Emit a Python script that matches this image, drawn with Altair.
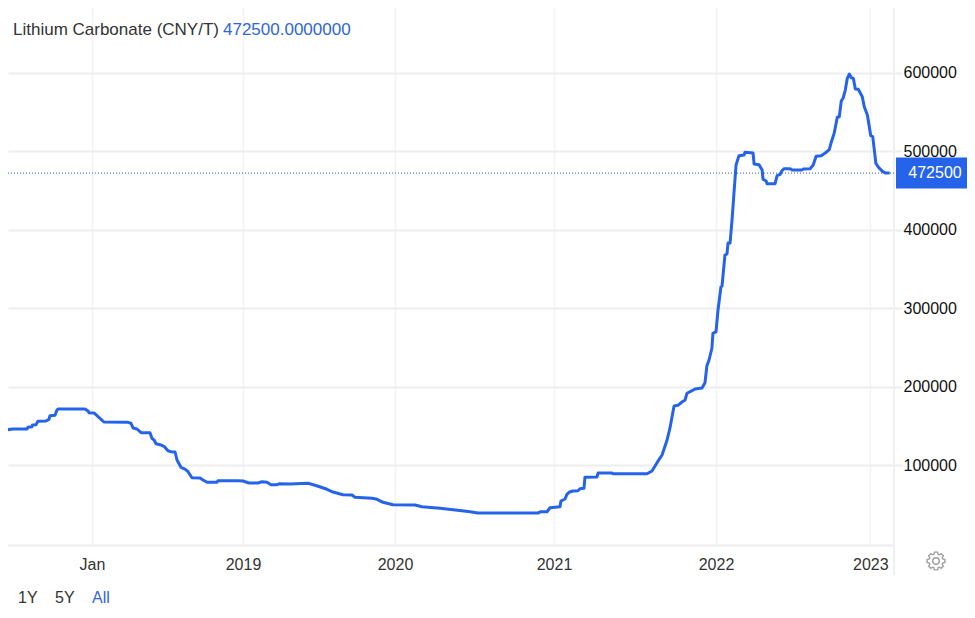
import math
import altair as alt
import pandas as pd

SERIES = "Lithium Carbonate (CNY/T)"
LAST = 472500
LAST_TEXT = "472500.0000000"

# time in decimal years, price in CNY/T
times = [
    2017.391, 2017.409, 2017.424, 2017.477, 2017.570, 2017.576, 2017.603, 2017.606, 2017.629, 2017.642,
    2017.695, 2017.715, 2017.722, 2017.755, 2017.768, 2017.775, 2017.954, 2017.974, 2017.980, 2018.013,
    2018.053, 2018.079, 2018.238, 2018.258, 2018.272, 2018.298, 2018.325, 2018.384, 2018.397, 2018.411,
    2018.424, 2018.450, 2018.477, 2018.503, 2018.523, 2018.550, 2018.563, 2018.589, 2018.616, 2018.636,
    2018.662, 2018.715, 2018.735, 2018.762, 2018.828, 2018.834, 2018.967, 2019.000, 2019.039, 2019.099,
    2019.125, 2019.158, 2019.184, 2019.224, 2019.237, 2019.309, 2019.428, 2019.474, 2019.553, 2019.592,
    2019.658, 2019.717, 2019.737, 2019.849, 2019.882, 2019.921, 2019.987, 2020.126, 2020.170, 2020.283,
    2020.421, 2020.472, 2020.522, 2020.899, 2020.918, 2020.956, 2020.975, 2021.037, 2021.043, 2021.068,
    2021.080, 2021.093, 2021.117, 2021.148, 2021.160, 2021.185, 2021.191, 2021.265, 2021.272, 2021.358,
    2021.364, 2021.574, 2021.605, 2021.636, 2021.667, 2021.698, 2021.716, 2021.741, 2021.765, 2021.790,
    2021.809, 2021.821, 2021.852, 2021.870, 2021.914, 2021.932, 2021.944, 2021.957, 2021.975, 2021.981,
    2022.000, 2022.013, 2022.032, 2022.039, 2022.058, 2022.071, 2022.078, 2022.091, 2022.104, 2022.117,
    2022.130, 2022.149, 2022.182, 2022.188, 2022.240, 2022.247, 2022.279, 2022.299, 2022.305, 2022.325,
    2022.331, 2022.383, 2022.396, 2022.416, 2022.429, 2022.442, 2022.481, 2022.494, 2022.558, 2022.565,
    2022.610, 2022.630, 2022.649, 2022.682, 2022.708, 2022.734, 2022.747, 2022.766, 2022.786, 2022.799,
    2022.812, 2022.825, 2022.838, 2022.851, 2022.864, 2022.877, 2022.890, 2022.903, 2022.922, 2022.948,
    2022.961, 2022.981, 2023.003, 2023.016, 2023.036, 2023.055, 2023.081, 2023.100, 2023.126,
]
prices = [
    141000, 144000, 145200, 146500, 146500, 148700, 149400, 151600, 152000, 156300,
    156700, 158800, 163400, 163900, 170700, 172000, 172000, 169400, 167300, 166900,
    160100, 155400, 155000, 153800, 147800, 146500, 141800, 141800, 134600, 132500,
    127800, 126500, 124400, 118800, 117600, 117200, 107000, 97700, 95500, 92100,
    84400, 84100, 81500, 78600, 78600, 80600, 80600, 80200, 77700, 77700,
    79400, 78600, 75500, 75500, 76800, 76400, 77300, 74800, 69700, 66200,
    62800, 62400, 59500, 58200, 56900, 53100, 50100, 49700, 47500, 45500,
    42400, 41100, 39500, 39500, 41100, 41100, 46200, 47500, 54800, 57300,
    63300, 65900, 67500, 67900, 70400, 70900, 84900, 85300, 90400, 90400,
    89500, 89500, 93000, 103600, 113400, 132500, 147800, 175800, 176700, 180900,
    183400, 192000, 195300, 197400, 198700, 205500, 227200, 234400, 249700, 268400,
    270100, 298100, 327400, 328600, 368100, 369400, 383400, 383400, 412700, 448400,
    482800, 494700, 495500, 499000, 498100, 484100, 483200, 476400, 464600, 462400,
    459000, 459000, 469200, 471000, 476000, 478100, 478100, 476400, 476400, 477700,
    478100, 482800, 493900, 494700, 498100, 502300, 511700, 523200, 543600, 544300,
    564300, 568500, 578300, 593200, 598700, 594000, 593200, 579600, 579200, 569800,
    557100, 546500, 520100, 518900, 485000, 479400, 474300, 472500, 472500,
]
year_ticks = [2018, 2019, 2020, 2021, 2022, 2023]
price_ticks = [100000, 200000, 300000, 400000, 500000, 600000]
buttons = ["1Y", "5Y", "All"]

FONT = "Liberation Sans"
BLUE = "#2563eb"
W, H = 886, 537

df = pd.DataFrame({"t": times, "v": prices})
one = pd.DataFrame({"v": [LAST]})

x_scale = alt.Scale(
    domain=[2017.391] + year_ticks + [2023.154],
    range=[-8, 84, 235, 387, 546, 708, 862.3, 886],
)
y_scale = alt.Scale(domain=[-1274, 682800], nice=False, zero=False)

line = (
    alt.Chart(df)
    .mark_line(color=BLUE, strokeWidth=3, clip=True, strokeJoin="round")
    .encode(
        x=alt.X(
            "t:Q",
            scale=x_scale,
            title=None,
            axis=alt.Axis(
                values=year_ticks,
                labelExpr="datum.value == 2018 ? 'Jan' : format(datum.value, 'd')",
                grid=True,
                gridColor="#f2f3f8",
                gridWidth=1.5,
                domainColor="#ececef",
                domainWidth=2,
                ticks=False,
                labelPadding=11,
                labelFont=FONT,
                labelFontSize=16,
                labelColor="#333333",
                labelOverlap=False,
                labelFlush=False,
            ),
        ),
        y=alt.Y(
            "v:Q",
            scale=y_scale,
            title=None,
            axis=alt.Axis(
                orient="right",
                values=price_ticks,
                format="d",
                grid=True,
                gridColor="#eeeef1",
                gridWidth=2,
                domain=False,
                tickColor="#eeeef1",
                tickSize=6,
                tickWidth=1.5,
                labelPadding=3,
                labelFont=FONT,
                labelFontSize=16,
                labelColor="#111111",
            ),
        ),
    )
)

y_edge = (
    alt.Chart(one)
    .mark_rule(color="#eff0f3", strokeWidth=2)
    .encode(x=alt.value(W), y=alt.value(0), y2=alt.value(567))
)

last_rule = (
    alt.Chart(one)
    .mark_rule(color="#2a5bd7", strokeWidth=1, strokeDash=[1, 2])
    .encode(x=alt.value(0), x2=alt.value(W), y=alt.Y("v:Q"))
)

last_box = (
    alt.Chart(one)
    .mark_rect(color=BLUE)
    .encode(
        x=alt.value(888),
        x2=alt.value(959),
        y=alt.datum(LAST + 19700),
        y2=alt.datum(LAST - 19700),
    )
)

last_text = (
    alt.Chart(one)
    .mark_text(font=FONT, fontSize=16, color="white", align="center", baseline="middle")
    .encode(x=alt.value(927), y=alt.Y("v:Q"), text=alt.Text("v:Q", format="d"))
)


def label(text, x, y, color, size=16):
    return (
        alt.Chart(pd.DataFrame({"label": [text]}))
        .mark_text(font=FONT, fontSize=size, color=color, align="left", baseline="middle")
        .encode(x=alt.value(x), y=alt.value(y), text="label:N")
    )


# settings gear, drawn in the symbol's unit square
pts = []
for i in range(8):
    a = i * math.pi / 4
    for da, r in [(-0.30, 0.78), (-0.17, 1.0), (0.17, 1.0), (0.30, 0.78)]:
        pts.append((r * math.cos(a + da), r * math.sin(a + da)))
gear_path = "M" + "L".join(f"{px:.3f},{py:.3f}" for px, py in pts) + "Z"

gear = (
    alt.Chart(one)
    .mark_point(shape=gear_path, size=324, filled=False, stroke="#777777", strokeWidth=1.4)
    .encode(x=alt.value(928), y=alt.value(553))
)
gear_hole = (
    alt.Chart(one)
    .mark_point(shape="circle", size=42, filled=False, stroke="#777777", strokeWidth=1.4)
    .encode(x=alt.value(928), y=alt.value(553))
)

chart = (
    alt.layer(
        line,
        y_edge,
        last_rule,
        last_box,
        last_text,
        label(SERIES, 5, 22, "#333333", 17),
        label(LAST_TEXT, 215, 22, "#2f66dc", 17),
        label(buttons[0], 10, 590, "#333333"),
        label(buttons[1], 47, 590, "#333333"),
        label(buttons[2], 84, 590, "#2f66dc"),
        gear,
        gear_hole,
    )
    .properties(
        width=W,
        height=H,
        padding={"left": 0, "top": 0, "right": 73, "bottom": 63},
        autosize=alt.AutoSizeParams(type="none"),
        view=alt.ViewBackground(stroke="transparent", strokeWidth=0),
    )
    .configure_view(stroke="transparent", strokeWidth=0)
    .configure(background="white")
)

chart.save("out.html", embed_options={"renderer": "svg", "actions": False})
